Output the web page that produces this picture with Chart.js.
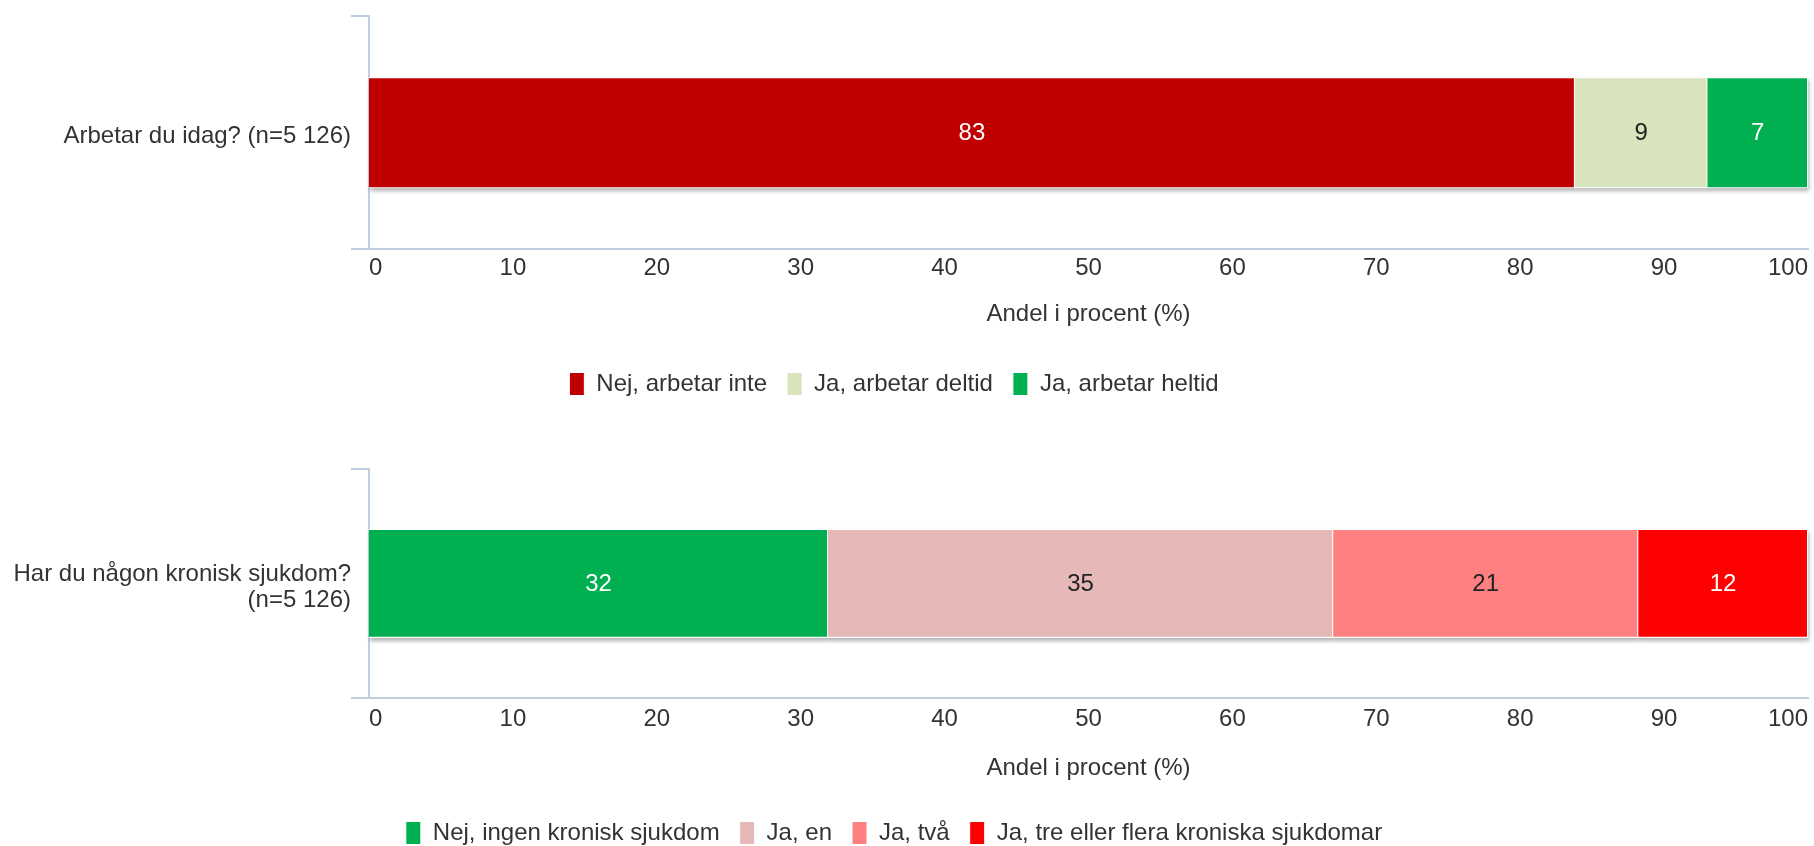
<!DOCTYPE html>
<html>
<head>
<meta charset="utf-8">
<script src="https://cdn.jsdelivr.net/npm/chart.js@4"></script>
<style>
  body { margin: 0; background: #fff; }
  .box { position: absolute; left: 0; width: 1814px; }
</style>
</head>
<body>
<div class="box" style="top:0; height:397px"><canvas id="chartWork"></canvas></div>
<div class="box" style="top:423px; height:423px"><canvas id="chartSick"></canvas></div>
<script>
// Chart 1: Arbetar du idag?
const workQuestion = ['Arbetar du idag? (n=5 126)'];
const workSeries = ['Nej, arbetar inte', 'Ja, arbetar deltid', 'Ja, arbetar heltid'];
const workValues = [83.8, 9.2, 7.0];
const workShown = ['83', '9', '7'];

// Chart 2: Har du någon kronisk sjukdom?
const sickQuestion = [['Har du någon kronisk sjukdom?', '(n=5 126)']];
const sickSeries = ['Nej, ingen kronisk sjukdom', 'Ja, en', 'Ja, två', 'Ja, tre eller flera kroniska sjukdomar'];
const sickValues = [31.9, 35.1, 21.2, 11.8];
const sickShown = ['32', '35', '21', '12'];

const xTicks = [0, 10, 20, 30, 40, 50, 60, 70, 80, 90, 100];
const axisTitle = 'Andel i procent (%)';

const workColors = ['#C00000', '#D8E4BC', '#00B050'];
const workTextColors = ['#fff', '#222', '#fff'];
const sickColors = ['#00B050', '#E6B9B8', '#FF8080', '#FF0000'];
const sickTextColors = ['#fff', '#222', '#222', '#fff'];

Chart.defaults.font.family = "'Liberation Sans', Arial, sans-serif";
Chart.defaults.font.size = 24;
Chart.defaults.color = '#333';

const axisColor = '#C0D0E0';

// shadow under each bar segment, drawn before the bars themselves
const barShadow = {
  id: 'barShadow',
  beforeDatasetsDraw(chart) {
    const ctx = chart.ctx;
    ctx.save();
    ctx.shadowColor = 'rgba(0,0,0,0.3)';
    ctx.shadowBlur = 4;
    ctx.shadowOffsetX = 1;
    ctx.shadowOffsetY = 3;
    ctx.fillStyle = '#fff';
    chart.data.datasets.forEach((ds, i) => {
      chart.getDatasetMeta(i).data.forEach(bar => {
        const p = bar.getProps(['x', 'y', 'base', 'height'], true);
        ctx.fillRect(Math.min(p.x, p.base), p.y - p.height / 2, Math.abs(p.x - p.base), p.height);
      });
    });
    ctx.restore();
  }
};

// numbers in the middle of each segment
const barLabels = {
  id: 'barLabels',
  afterDatasetsDraw(chart) {
    const ctx = chart.ctx;
    ctx.save();
    ctx.font = "24px 'Liberation Sans', Arial, sans-serif";
    ctx.textAlign = 'center';
    ctx.textBaseline = 'middle';
    chart.data.datasets.forEach((ds, i) => {
      chart.getDatasetMeta(i).data.forEach((bar, j) => {
        const c = bar.getCenterPoint();
        ctx.fillStyle = ds.labelColor;
        ctx.fillText(ds.shown[j], c.x, c.y + 1);
      });
    });
    ctx.restore();
  }
};

// nudge the legend a little to the left
const legendShift = {
  id: 'legendShift',
  afterLayout(chart) {
    chart.legend.left -= 10;
    chart.legend.right -= 10;
  }
};

function makeChart(id, question, series, values, shown, colors, textColors, pad) {
  const datasets = series.map((name, i) => ({
    label: name,
    data: [values[i]],
    shown: [shown[i]],
    labelColor: textColors[i],
    backgroundColor: colors[i],
    borderColor: '#fff',
    borderWidth: 1,
    barPercentage: 0.475,
    categoryPercentage: 1
  }));

  return new Chart(document.getElementById(id), {
    type: 'bar',
    data: { labels: question, datasets: datasets },
    options: {
      indexAxis: 'y',
      responsive: true,
      maintainAspectRatio: false,
      animation: false,
      layout: { padding: { top: pad.top, bottom: 0, left: 0, right: 6 } },
      scales: {
        x: {
          stacked: true,
          min: 0,
          max: 100,
          afterBuildTicks: s => { s.ticks = xTicks.map(v => ({ value: v })); },
          afterFit: s => { s.paddingLeft = 0; s.paddingRight = 0; },
          grid: { display: false, drawTicks: false },
          border: { color: axisColor, width: 2 },
          ticks: { padding: pad.tick, color: '#333', maxRotation: 0, align: 'inner' },
          title: {
            display: true,
            text: axisTitle,
            color: '#333',
            padding: { top: pad.titleTop, bottom: pad.titleBottom }
          }
        },
        y: {
          stacked: true,
          afterFit: s => { s.width = 369; },
          grid: {
            drawOnChartArea: false,
            drawTicks: true,
            tickLength: 18,
            color: axisColor,
            lineWidth: 2
          },
          border: { color: axisColor, width: 2 },
          ticks: { padding: 0, labelOffset: 4, color: '#333', font: { size: 24, lineHeight: 1.06 } }
        }
      },
      plugins: {
        tooltip: { enabled: false },
        legend: {
          position: 'bottom',
          maxHeight: 45,
          labels: {
            boxWidth: 15,
            boxHeight: 23,
            padding: 20,
            color: '#333',
            font: { size: 24 }
          }
        }
      }
    },
    plugins: [barShadow, barLabels, legendShift]
  });
}

makeChart('chartWork', workQuestion, workSeries, workValues, workShown, workColors, workTextColors,
  { top: 16, tick: 4.5, titleTop: 13, titleBottom: 23 });
makeChart('chartSick', sickQuestion, sickSeries, sickValues, sickShown, sickColors, sickTextColors,
  { top: 46, tick: 7, titleTop: 13.5, titleBottom: 18 });
</script>
</body>
</html>
